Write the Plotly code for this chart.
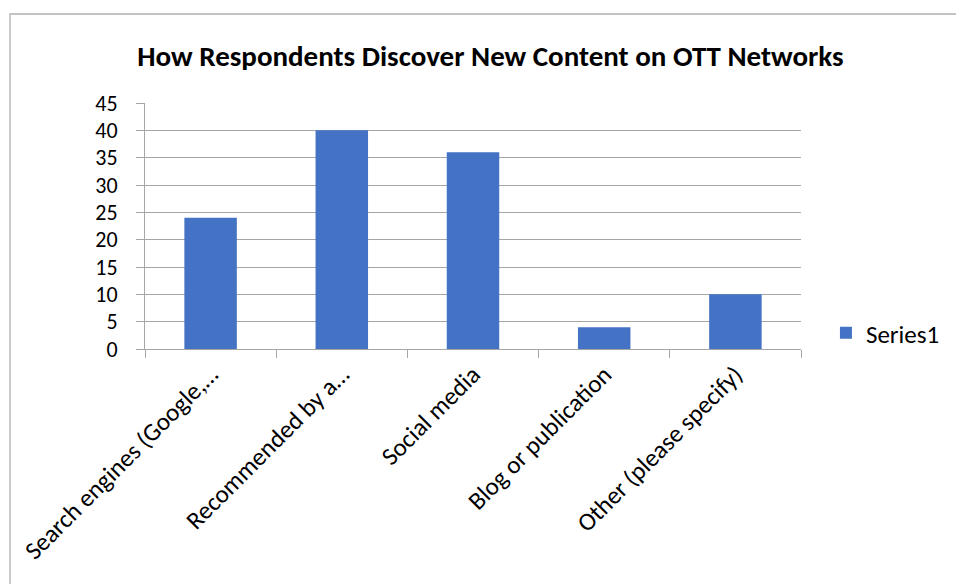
import plotly.graph_objects as go

# Survey responses: how people find new content on OTT networks
categories = [
    "Search engines (Google,…",
    "Recommended by a…",
    "Social media",
    "Blog or publication",
    "Other (please specify)",
]
responses = [24, 40, 36, 4, 10]
y_ticks = [0, 5, 10, 15, 20, 25, 30, 35, 40, 45]

FONT = "Carlito, Calibri, 'Open Sans', sans-serif"
GRID = "#a6a6a6"
BAR = "#4472C4"

fig = go.Figure(
    go.Bar(
        x=categories,
        y=responses,
        name="Series1",
        marker=dict(color=BAR, line=dict(width=0)),
        showlegend=True,
    )
)

# Outer chart border (left and top edges visible)
border = dict(type="rect", xref="paper", yref="paper",
              x0=-0.2058, x1=1.3, y0=-1.2, y1=1.3618,
              line=dict(color="#b0b0b0", width=1.3), layer="below")

fig.update_layout(
    width=956,
    height=584,
    margin=dict(l=145, r=155, t=103, b=235, autoexpand=False),
    paper_bgcolor="white",
    plot_bgcolor="white",
    font=dict(family=FONT, size=25, color="black"),
    title=dict(
        text="<b>How Respondents Discover New Content on OTT Networks</b>",
        x=0.513, xanchor="center", xref="container",
        y=0.905, yanchor="middle", yref="container",
        font=dict(family=FONT, size=29, color="black"),
    ),
    bargap=0.6,
    shapes=[border],
    legend=dict(
        x=1.038, xanchor="left", y=0.065, yanchor="middle",
        font=dict(family=FONT, size=25, color="black"),
        bgcolor="rgba(0,0,0,0)", itemwidth=30,
    ),
    xaxis=dict(
        type="category",
        tickangle=-45,
        ticks="outside", tickson="boundaries", ticklen=8,
        tickcolor=GRID, tickwidth=1,
        showline=True, linecolor=GRID, linewidth=1,
        showgrid=False,
        tickfont=dict(family=FONT, size=25, color="black"),
    ),
    yaxis=dict(
        range=[0, 45],
        tickvals=y_ticks,
        ticks="outside", ticklen=8, tickcolor=GRID, tickwidth=1,
        showgrid=True, gridcolor=GRID, gridwidth=1,
        showline=True, linecolor=GRID, linewidth=1,
        zeroline=False,
        ticklabelstandoff=14,
        tickfont=dict(family=FONT, size=22, color="black"),
    ),
)

fig.write_html("out.html")
